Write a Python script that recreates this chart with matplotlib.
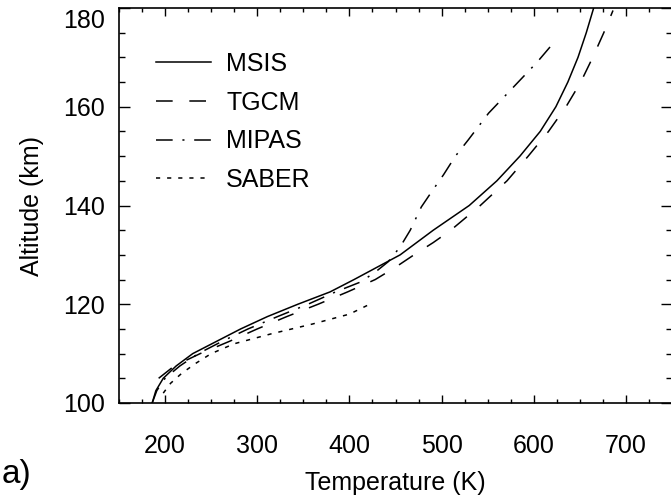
import matplotlib
matplotlib.use("Agg")
import matplotlib.pyplot as plt
from matplotlib.ticker import MultipleLocator
from matplotlib.transforms import ScaledTranslation

plt.rcParams['font.family'] = ['Liberation Sans', 'DejaVu Sans']
plt.rcParams['lines.scale_dashes'] = False

# ---- data ----
alt_msis = [100, 102.5, 105, 107.5, 110, 112.5, 115, 117.5, 120, 122.5, 125, 127.5,
            130, 135, 140, 145, 150, 155, 160, 165, 170, 175, 180]
temp_msis = [186, 190, 198, 212, 230, 256, 282, 311, 344, 379, 405, 430,
             455, 491, 530, 560, 585, 607, 624, 637, 648, 657, 665]

alt_tgcm = [105, 107.5, 110, 112.5, 115, 117.5, 120, 122.5, 125, 127.5, 130, 132.5,
            135, 140, 145, 150, 155, 160, 165, 170, 175, 179.5]
temp_tgcm = [193, 210, 238, 270, 300, 332, 366, 398, 428, 450, 470, 491,
             510, 542, 571, 594, 616, 635, 651, 664, 676, 686]

alt_mipas = [100, 102.5, 105, 107.5, 110, 112.5, 115, 117.5, 120, 122.5, 124.5,
             126.5, 128.6, 131.6, 135, 139.7, 143, 146.2, 150, 153.3, 158.7,
             163.4, 169.1, 173.5]
temp_mipas = [186, 191, 200, 216, 236, 262, 290, 322, 355, 385, 412,
              428, 442, 455, 466, 478, 490, 502, 515, 529, 551,
              575, 604, 624]

alt_saber = [102, 104, 106, 108, 110, 112, 114, 116, 118, 120]
temp_saber = [198, 206, 218, 233, 250, 275, 315, 360, 400, 422]

labels = ['MSIS', 'TGCM', 'MIPAS', 'SABER']
x_ticks = [200, 300, 400, 500, 600, 700]
y_ticks = [100, 120, 140, 160, 180]

fig = plt.figure(figsize=(6.71, 5.0), dpi=100)
ax = fig.add_axes([119/671, 97/500, 553/671, 395/500])

lw = 1.1
ax.plot(temp_msis, alt_msis, color='black', lw=lw, linestyle='-', label=labels[0])
ax.plot(temp_tgcm, alt_tgcm, color='black', lw=lw, linestyle=(0, (12, 12)), label=labels[1])
ax.plot(temp_mipas, alt_mipas, color='black', lw=lw, linestyle=(0, (12, 7, 1.5, 7)), label=labels[2])
ax.plot(temp_saber, alt_saber, color='black', lw=lw, linestyle=(0, (3, 5)), label=labels[3])

ax.set_xlim(150, 750)
ax.set_ylim(100, 180)
ax.set_xticks(x_ticks)
ax.set_yticks(y_ticks)
ax.xaxis.set_minor_locator(MultipleLocator(25))
ax.yaxis.set_minor_locator(MultipleLocator(5))
ax.tick_params(which='both', direction='in', top=True, right=True, width=1.0, colors='black')
ax.tick_params(axis='x', which='major', length=6, pad=22, labelsize=18)
ax.tick_params(axis='x', which='minor', length=3)
ax.tick_params(axis='y', which='major', length=8, pad=10, labelsize=18)
ax.tick_params(axis='y', which='minor', length=4)
for s in ax.spines.values():
    s.set_linewidth(1.2)

# shift the top y tick label slightly down, as in the reference
top_lab = ax.yaxis.get_major_ticks()[-1].label1
top_lab.set_transform(top_lab.get_transform() + ScaledTranslation(0, -10/100, fig.dpi_scale_trans))

ax.set_xlabel('Temperature (K)', fontsize=18, labelpad=10)
ax.set_ylabel('Altitude (km)', fontsize=18, labelpad=14)

leg = ax.legend(loc='upper left', bbox_to_anchor=(0.067, 0.889), frameon=False,
                fontsize=18, handlelength=2.2, handletextpad=0.6, labelspacing=0.59,
                borderpad=0, borderaxespad=0)

fig.text(0.002, 0.035, 'a)', fontsize=24, ha='left', va='baseline')

fig.savefig('out.png', dpi=100)
